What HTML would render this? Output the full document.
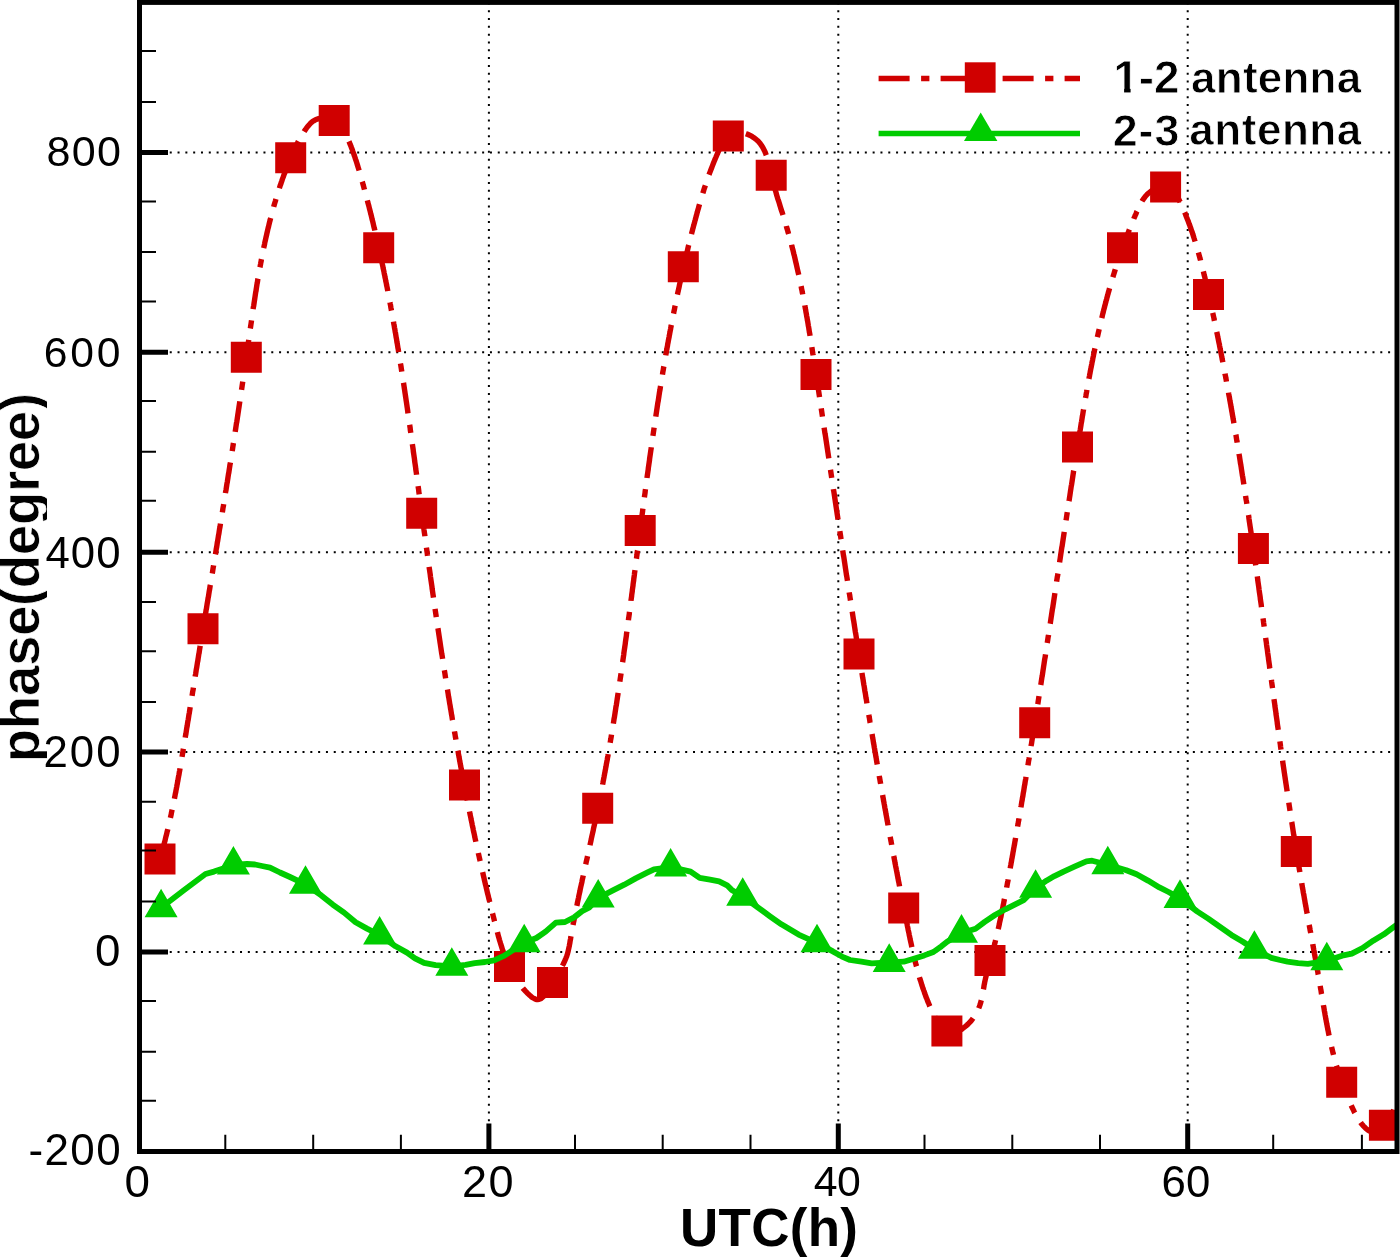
<!DOCTYPE html><html><head><meta charset="utf-8"><style>html,body{margin:0;padding:0;background:#fff;}svg{display:block;will-change:transform;}text{font-family:"Liberation Sans",sans-serif;font-size:100px;font-kerning:none;fill:#000;}</style></head><body>
<svg width="1400" height="1258" viewBox="0 0 1400 1258">
<defs><clipPath id="pc"><rect x="139.5" y="2.4" width="1257.5" height="1149.1"/></clipPath><clipPath id="tc"><rect x="-10" y="300" width="57" height="560"/></clipPath></defs>
<path d="M138.5 952.00H1397.0M138.5 752.10H1397.0M138.5 552.20H1397.0M138.5 352.30H1397.0M138.5 152.40H1397.0" stroke="#000" stroke-width="2" stroke-dasharray="2 5.81" fill="none"/>
<path d="M488.90 1152.5V2.4M838.30 1152.5V2.4M1187.70 1152.5V2.4" stroke="#000" stroke-width="2" stroke-dasharray="2 5.81" fill="none"/>
<g clip-path="url(#pc)">
<path d="M160.0 859.0L160.3 857.7L160.7 856.4L161.1 855.1L161.4 853.8L161.8 852.5L162.2 851.1L162.5 849.8L162.9 848.5L163.2 847.2L163.6 845.9L163.9 844.6L164.3 843.3L164.6 842.0L165.0 840.7L165.3 839.3L165.6 838.0L165.9 836.7L166.3 835.4L166.6 834.1L166.9 832.8L167.2 831.5L167.6 830.1L167.9 828.8L168.2 827.5L168.5 826.2L168.8 824.9L169.1 823.5L169.4 822.2L169.7 820.9L170.0 819.6L170.3 818.3L170.6 816.9L170.9 815.6L171.2 814.3L171.4 813.0L171.7 811.7L172.0 810.3L172.3 809.0L172.6 807.7L172.8 806.4L173.1 805.0L173.4 803.7L173.7 802.4L173.9 801.1L174.2 799.7L174.5 798.4L174.7 797.1L175.0 795.8L175.2 794.4L175.5 793.1L175.8 791.8L176.0 790.4L176.3 789.1L176.5 787.8L176.8 786.5L177.0 785.1L177.3 783.8L177.5 782.5L177.8 781.1L178.0 779.8L178.2 778.5L178.5 777.1L178.7 775.8L179.0 774.5L179.2 773.2L179.4 771.8L179.7 770.5L179.9 769.2L180.1 767.8L180.4 766.5L180.6 765.2L180.8 763.8L181.1 762.5L181.3 761.2L181.5 759.8L181.8 758.5L182.0 757.2L182.2 755.8L182.4 754.5L182.7 753.1L182.9 751.8L183.1 750.5L183.3 749.1L183.5 747.8L183.8 746.5L184.0 745.1L184.2 743.8L184.4 742.5L184.7 741.1L184.9 739.8L185.1 738.5L185.3 737.1L185.5 735.8L185.8 734.4L186.0 733.1L186.2 731.8L186.4 730.4L186.6 729.1L186.8 727.8L187.1 726.4L187.3 725.1L187.5 723.7L187.7 722.4L187.9 721.1L188.2 719.7L188.4 718.4L188.6 717.1L188.8 715.7L189.0 714.4L189.3 713.0L189.5 711.7L189.7 710.4L189.9 709.0L190.1 707.7L190.3 706.4L190.6 705.0L190.8 703.7L191.0 702.3L191.2 701.0L191.4 699.7L191.6 698.3L191.9 697.0L192.1 695.7L192.3 694.3L192.5 693.0L192.7 691.6L193.0 690.3L193.2 689.0L193.4 687.6L193.6 686.3L193.8 684.9L194.0 683.6L194.3 682.3L194.5 680.9L194.7 679.6L194.9 678.3L195.1 676.9L195.3 675.6L195.6 674.2L195.8 672.9L196.0 671.6L196.2 670.2L196.4 668.9L196.7 667.6L196.9 666.2L197.1 664.9L197.3 663.6L197.5 662.2L197.8 660.9L198.0 659.5L198.2 658.2L198.4 656.9L198.6 655.5L198.8 654.2L199.1 652.9L199.3 651.5L199.5 650.2L199.7 648.9L199.9 647.5L200.2 646.2L200.4 644.8L200.6 643.5L200.8 642.2L201.1 640.8L201.3 639.5L201.5 638.2L201.7 636.8L201.9 635.5L202.2 634.2L202.4 632.8L202.6 631.5L202.8 630.2L203.0 628.8L203.3 627.5L203.5 626.2L203.7 624.8L203.9 623.5L204.1 622.1L204.4 620.8L204.6 619.5L204.8 618.1L205.0 616.8L205.3 615.5L205.5 614.1L205.7 612.8L205.9 611.5L206.1 610.1L206.4 608.8L206.6 607.5L206.8 606.1L207.0 604.8L207.2 603.5L207.5 602.1L207.7 600.8L207.9 599.5L208.1 598.1L208.4 596.8L208.6 595.5L208.8 594.1L209.0 592.8L209.2 591.5L209.5 590.1L209.7 588.8L209.9 587.5L210.1 586.1L210.4 584.8L210.6 583.5L210.8 582.1L211.0 580.8L211.2 579.5L211.5 578.1L211.7 576.8L211.9 575.5L212.1 574.1L212.4 572.8L212.6 571.5L212.8 570.1L213.0 568.8L213.2 567.5L213.5 566.1L213.7 564.8L213.9 563.4L214.1 562.1L214.3 560.8L214.6 559.4L214.8 558.1L215.0 556.8L215.2 555.4L215.5 554.1L215.7 552.8L215.9 551.4L216.1 550.1L216.3 548.8L216.6 547.4L216.8 546.1L217.0 544.8L217.2 543.4L217.4 542.1L217.7 540.8L217.9 539.4L218.1 538.1L218.3 536.8L218.5 535.4L218.8 534.1L219.0 532.8L219.2 531.4L219.4 530.1L219.6 528.8L219.9 527.4L220.1 526.1L220.3 524.8L220.5 523.4L220.7 522.1L221.0 520.8L221.2 519.4L221.4 518.1L221.6 516.7L221.8 515.4L222.1 514.1L222.3 512.7L222.5 511.4L222.7 510.1L222.9 508.7L223.1 507.4L223.4 506.1L223.6 504.7L223.8 503.4L224.0 502.1L224.2 500.7L224.4 499.4L224.7 498.1L224.9 496.7L225.1 495.4L225.3 494.0L225.5 492.7L225.7 491.4L226.0 490.0L226.2 488.7L226.4 487.4L226.6 486.0L226.8 484.7L227.0 483.4L227.3 482.0L227.5 480.7L227.7 479.3L227.9 478.0L228.1 476.7L228.3 475.3L228.5 474.0L228.8 472.7L229.0 471.3L229.2 470.0L229.4 468.6L229.6 467.3L229.8 466.0L230.0 464.6L230.3 463.3L230.5 462.0L230.7 460.6L230.9 459.3L231.1 457.9L231.3 456.6L231.5 455.3L231.7 453.9L232.0 452.6L232.2 451.2L232.4 449.9L232.6 448.6L232.8 447.2L233.0 445.9L233.2 444.5L233.4 443.2L233.6 441.9L233.8 440.5L234.1 439.2L234.3 437.8L234.5 436.5L234.7 435.2L234.9 433.8L235.1 432.5L235.3 431.1L235.5 429.8L235.7 428.5L235.9 427.1L236.1 425.8L236.3 424.4L236.5 423.1L236.8 421.7L237.0 420.4L237.2 419.1L237.4 417.7L237.6 416.4L237.8 415.0L238.0 413.7L238.2 412.3L238.4 411.0L238.6 409.7L238.8 408.3L239.0 407.0L239.2 405.6L239.4 404.3L239.6 402.9L239.8 401.6L240.0 400.2L240.2 398.9L240.4 397.6L240.6 396.2L240.8 394.9L241.0 393.5L241.2 392.2L241.4 390.8L241.6 389.5L241.8 388.1L242.0 386.8L242.2 385.4L242.4 384.1L242.6 382.7L242.8 381.4L243.0 380.1L243.2 378.7L243.4 377.4L243.6 376.0L243.8 374.7L244.0 373.3L244.2 372.0L244.4 370.6L244.6 369.3L244.8 367.9L245.0 366.6L245.2 365.2L245.3 363.9L245.5 362.5L245.7 361.2L245.9 359.8L246.1 358.5L246.3 357.1L246.5 355.8L246.7 354.4L246.9 353.1L247.1 351.7L247.3 350.4L247.5 349.0L247.6 347.7L247.8 346.3L248.0 344.9L248.2 343.6L248.4 342.2L248.6 340.9L248.8 339.5L249.0 338.2L249.2 336.8L249.4 335.5L249.5 334.1L249.7 332.8L249.9 331.4L250.1 330.1L250.3 328.7L250.5 327.4L250.7 326.0L250.9 324.7L251.1 323.3L251.3 322.0L251.5 320.6L251.7 319.2L251.9 317.9L252.1 316.5L252.3 315.2L252.4 313.8L252.6 312.5L252.8 311.1L253.0 309.8L253.2 308.4L253.4 307.1L253.7 305.7L253.9 304.4L254.1 303.0L254.3 301.7L254.5 300.3L254.7 299.0L254.9 297.6L255.1 296.3L255.3 294.9L255.5 293.6L255.7 292.2L256.0 290.9L256.2 289.5L256.4 288.2L256.6 286.8L256.8 285.5L257.0 284.2L257.3 282.8L257.5 281.5L257.7 280.1L257.9 278.8L258.2 277.4L258.4 276.1L258.6 274.7L258.9 273.4L259.1 272.1L259.4 270.7L259.6 269.4L259.8 268.0L260.1 266.7L260.3 265.4L260.6 264.0L260.8 262.7L261.1 261.4L261.3 260.0L261.6 258.7L261.8 257.3L262.1 256.0L262.4 254.7L262.6 253.3L262.9 252.0L263.2 250.7L263.4 249.3L263.7 248.0L264.0 246.7L264.3 245.4L264.6 244.0L264.8 242.7L265.1 241.4L265.4 240.1L265.7 238.7L266.0 237.4L266.3 236.1L266.6 234.8L266.9 233.4L267.2 232.1L267.5 230.8L267.8 229.5L268.1 228.2L268.5 226.8L268.8 225.5L269.1 224.2L269.4 222.9L269.7 221.6L270.1 220.3L270.4 219.0L270.8 217.6L271.1 216.3L271.4 215.0L271.8 213.7L272.1 212.4L272.5 211.1L272.9 209.8L273.2 208.5L273.6 207.2L273.9 205.9L274.3 204.6L274.7 203.3L275.1 202.0L275.5 200.7L275.8 199.4L276.2 198.1L276.6 196.8L277.0 195.5L277.4 194.2L277.8 193.0L278.2 191.7L278.7 190.4L279.1 189.1L279.5 187.8L279.9 186.5L280.3 185.2L280.8 184.0L281.2 182.7L281.7 181.4L282.1 180.1L282.5 178.9L283.0 177.6L283.5 176.3L283.9 175.0L284.4 173.8L284.9 172.5L285.3 171.2L285.8 170.0L286.3 168.7L286.8 167.4L287.3 166.2L287.8 164.9L288.3 163.7L288.8 162.4L289.3 161.1L289.8 159.9L290.3 158.6L290.9 157.4L291.4 156.1L291.9 154.9L292.5 153.7L293.0 152.4L293.6 151.2L294.1 149.9L294.7 148.7L295.3 147.5L295.9 146.2L296.5 145.0L297.1 143.8L297.7 142.6L298.3 141.4L299.0 140.2L299.6 139.0L300.3 137.8L301.0 136.6L301.7 135.4L302.4 134.3L303.1 133.1L303.9 132.0L304.6 130.8L305.4 129.7L306.2 128.5L307.0 127.4L307.9 126.3L308.8 125.2L309.7 124.2L310.6 123.2L311.6 122.3L312.6 121.5L313.7 120.8L314.9 120.1L316.1 119.5L317.3 119.1L318.6 118.7L319.9 118.4L321.2 118.2L322.5 118.0L323.8 118.0L325.1 118.0L326.4 118.1L327.7 118.3L329.0 118.5L330.3 118.9L331.5 119.3L332.7 119.8L333.9 120.4L335.0 121.0L336.1 121.7L337.1 122.5L338.1 123.4L339.0 124.3L339.9 125.2L340.8 126.3L341.6 127.3L342.4 128.4L343.1 129.6L343.8 130.8L344.5 132.0L345.2 133.2L345.9 134.5L346.5 135.8L347.1 137.1L347.7 138.4L348.3 139.7L348.8 141.1L349.4 142.4L349.9 143.7L350.4 145.0L351.0 146.3L351.5 147.7L352.0 149.0L352.5 150.3L352.9 151.6L353.4 152.9L353.9 154.2L354.3 155.5L354.8 156.8L355.2 158.1L355.6 159.4L356.1 160.7L356.5 162.0L356.9 163.3L357.3 164.6L357.7 165.9L358.1 167.2L358.5 168.5L358.9 169.8L359.3 171.1L359.6 172.4L360.0 173.7L360.4 175.0L360.8 176.3L361.1 177.6L361.5 178.9L361.9 180.2L362.2 181.5L362.6 182.8L363.0 184.1L363.3 185.4L363.7 186.7L364.0 188.0L364.4 189.2L364.7 190.5L365.1 191.8L365.4 193.1L365.8 194.5L366.1 195.8L366.5 197.1L366.8 198.4L367.2 199.7L367.5 201.0L367.8 202.3L368.2 203.6L368.5 204.9L368.9 206.2L369.2 207.5L369.5 208.8L369.9 210.1L370.2 211.4L370.5 212.7L370.8 214.0L371.2 215.3L371.5 216.6L371.8 217.9L372.1 219.3L372.5 220.6L372.8 221.9L373.1 223.2L373.4 224.5L373.7 225.8L374.0 227.1L374.3 228.4L374.7 229.7L375.0 231.0L375.3 232.4L375.6 233.7L375.9 235.0L376.2 236.3L376.5 237.6L376.8 238.9L377.1 240.2L377.4 241.6L377.7 242.9L378.0 244.2L378.3 245.5L378.6 246.8L378.9 248.1L379.2 249.5L379.5 250.8L379.8 252.1L380.0 253.4L380.3 254.7L380.6 256.1L380.9 257.4L381.2 258.7L381.5 260.0L381.7 261.3L382.0 262.7L382.3 264.0L382.6 265.3L382.9 266.6L383.1 267.9L383.4 269.3L383.7 270.6L384.0 271.9L384.2 273.2L384.5 274.6L384.8 275.9L385.0 277.2L385.3 278.5L385.6 279.9L385.8 281.2L386.1 282.5L386.4 283.8L386.6 285.2L386.9 286.5L387.2 287.8L387.4 289.1L387.7 290.5L387.9 291.8L388.2 293.1L388.4 294.4L388.7 295.8L389.0 297.1L389.2 298.4L389.5 299.8L389.7 301.1L390.0 302.4L390.2 303.7L390.5 305.1L390.7 306.4L390.9 307.7L391.2 309.1L391.4 310.4L391.7 311.7L391.9 313.1L392.2 314.4L392.4 315.7L392.6 317.1L392.9 318.4L393.1 319.7L393.4 321.1L393.6 322.4L393.8 323.7L394.1 325.1L394.3 326.4L394.5 327.7L394.8 329.1L395.0 330.4L395.2 331.7L395.5 333.1L395.7 334.4L395.9 335.7L396.1 337.1L396.4 338.4L396.6 339.7L396.8 341.1L397.0 342.4L397.3 343.8L397.5 345.1L397.7 346.4L397.9 347.8L398.2 349.1L398.4 350.4L398.6 351.8L398.8 353.1L399.0 354.5L399.2 355.8L399.5 357.1L399.7 358.5L399.9 359.8L400.1 361.2L400.3 362.5L400.5 363.8L400.8 365.2L401.0 366.5L401.2 367.9L401.4 369.2L401.6 370.5L401.8 371.9L402.0 373.2L402.2 374.6L402.4 375.9L402.6 377.2L402.8 378.6L403.1 379.9L403.3 381.3L403.5 382.6L403.7 383.9L403.9 385.3L404.1 386.6L404.3 388.0L404.5 389.3L404.7 390.7L404.9 392.0L405.1 393.3L405.3 394.7L405.5 396.0L405.7 397.4L405.9 398.7L406.1 400.1L406.3 401.4L406.5 402.7L406.7 404.1L406.9 405.4L407.1 406.8L407.3 408.1L407.5 409.5L407.7 410.8L407.8 412.2L408.0 413.5L408.2 414.8L408.4 416.2L408.6 417.5L408.8 418.9L409.0 420.2L409.2 421.6L409.4 422.9L409.6 424.3L409.8 425.6L410.0 427.0L410.2 428.3L410.3 429.6L410.5 431.0L410.7 432.3L410.9 433.7L411.1 435.0L411.3 436.4L411.5 437.7L411.7 439.1L411.9 440.4L412.0 441.8L412.2 443.1L412.4 444.4L412.6 445.8L412.8 447.1L413.0 448.5L413.2 449.8L413.3 451.2L413.5 452.5L413.7 453.9L413.9 455.2L414.1 456.6L414.3 457.9L414.5 459.3L414.6 460.6L414.8 462.0L415.0 463.3L415.2 464.6L415.4 466.0L415.6 467.3L415.7 468.7L415.9 470.0L416.1 471.4L416.3 472.7L416.5 474.1L416.6 475.4L416.8 476.8L417.0 478.1L417.2 479.5L417.4 480.8L417.6 482.2L417.7 483.5L417.9 484.8L418.1 486.2L418.3 487.5L418.5 488.9L418.7 490.2L418.8 491.6L419.0 492.9L419.2 494.3L419.4 495.6L419.6 497.0L419.7 498.3L419.9 499.7L420.1 501.0L420.3 502.4L420.5 503.7L420.7 505.0L420.8 506.4L421.0 507.7L421.2 509.1L421.4 510.4L421.6 511.8L421.7 513.1L421.9 514.5L422.1 515.8L422.3 517.2L422.5 518.5L422.7 519.9L422.8 521.2L423.0 522.5L423.2 523.9L423.4 525.2L423.6 526.6L423.8 527.9L423.9 529.3L424.1 530.6L424.3 532.0L424.5 533.3L424.7 534.7L424.9 536.0L425.0 537.3L425.2 538.7L425.4 540.0L425.6 541.4L425.8 542.7L426.0 544.1L426.1 545.4L426.3 546.8L426.5 548.1L426.7 549.4L426.9 550.8L427.1 552.1L427.3 553.5L427.4 554.8L427.6 556.2L427.8 557.5L428.0 558.9L428.2 560.2L428.4 561.5L428.6 562.9L428.7 564.2L428.9 565.6L429.1 566.9L429.3 568.3L429.5 569.6L429.7 570.9L429.9 572.3L430.1 573.6L430.3 575.0L430.4 576.3L430.6 577.7L430.8 579.0L431.0 580.3L431.2 581.7L431.4 583.0L431.6 584.4L431.8 585.7L432.0 587.1L432.1 588.4L432.3 589.7L432.5 591.1L432.7 592.4L432.9 593.8L433.1 595.1L433.3 596.5L433.5 597.8L433.7 599.1L433.9 600.5L434.1 601.8L434.3 603.2L434.5 604.5L434.7 605.9L434.8 607.2L435.0 608.5L435.2 609.9L435.4 611.2L435.6 612.6L435.8 613.9L436.0 615.2L436.2 616.6L436.4 617.9L436.6 619.3L436.8 620.6L437.0 621.9L437.2 623.3L437.4 624.6L437.6 626.0L437.8 627.3L438.0 628.6L438.2 630.0L438.4 631.3L438.6 632.7L438.8 634.0L439.0 635.3L439.2 636.7L439.4 638.0L439.6 639.4L439.8 640.7L440.0 642.0L440.2 643.4L440.4 644.7L440.6 646.1L440.8 647.4L441.0 648.7L441.2 650.1L441.4 651.4L441.6 652.8L441.8 654.1L442.1 655.4L442.3 656.8L442.5 658.1L442.7 659.5L442.9 660.8L443.1 662.1L443.3 663.5L443.5 664.8L443.7 666.1L443.9 667.5L444.1 668.8L444.3 670.2L444.6 671.5L444.8 672.8L445.0 674.2L445.2 675.5L445.4 676.8L445.6 678.2L445.8 679.5L446.0 680.9L446.3 682.2L446.5 683.5L446.7 684.9L446.9 686.2L447.1 687.5L447.3 688.9L447.6 690.2L447.8 691.6L448.0 692.9L448.2 694.2L448.4 695.6L448.6 696.9L448.9 698.2L449.1 699.6L449.3 700.9L449.5 702.2L449.7 703.6L450.0 704.9L450.2 706.2L450.4 707.6L450.6 708.9L450.9 710.3L451.1 711.6L451.3 712.9L451.5 714.3L451.8 715.6L452.0 716.9L452.2 718.3L452.4 719.6L452.7 720.9L452.9 722.3L453.1 723.6L453.4 724.9L453.6 726.3L453.8 727.6L454.0 728.9L454.3 730.3L454.5 731.6L454.7 732.9L455.0 734.3L455.2 735.6L455.4 736.9L455.7 738.3L455.9 739.6L456.1 740.9L456.4 742.3L456.6 743.6L456.9 744.9L457.1 746.3L457.3 747.6L457.6 748.9L457.8 750.3L458.1 751.6L458.3 752.9L458.5 754.3L458.8 755.6L459.0 756.9L459.3 758.3L459.5 759.6L459.7 760.9L460.0 762.3L460.2 763.6L460.5 764.9L460.7 766.3L461.0 767.6L461.2 768.9L461.5 770.2L461.7 771.6L462.0 772.9L462.2 774.2L462.5 775.6L462.7 776.9L463.0 778.2L463.2 779.6L463.5 780.9L463.7 782.2L464.0 783.6L464.3 784.9L464.5 786.2L464.8 787.5L465.0 788.9L465.3 790.2L465.5 791.5L465.8 792.9L466.1 794.2L466.3 795.5L466.6 796.8L466.8 798.2L467.1 799.5L467.4 800.8L467.6 802.2L467.9 803.5L468.2 804.8L468.4 806.1L468.7 807.5L469.0 808.8L469.2 810.1L469.5 811.5L469.8 812.8L470.0 814.1L470.3 815.4L470.6 816.8L470.9 818.1L471.1 819.4L471.4 820.8L471.7 822.1L472.0 823.4L472.2 824.7L472.5 826.1L472.8 827.4L473.1 828.7L473.3 830.0L473.6 831.4L473.9 832.7L474.2 834.0L474.5 835.3L474.7 836.7L475.0 838.0L475.3 839.3L475.6 840.6L475.9 842.0L476.2 843.3L476.5 844.6L476.7 845.9L477.0 847.3L477.3 848.6L477.6 849.9L477.9 851.2L478.2 852.6L478.5 853.9L478.8 855.2L479.1 856.5L479.4 857.9L479.7 859.2L480.0 860.5L480.3 861.8L480.6 863.2L480.9 864.5L481.2 865.8L481.5 867.1L481.8 868.5L482.1 869.8L482.4 871.1L482.7 872.4L483.0 873.7L483.3 875.1L483.6 876.4L483.9 877.7L484.2 879.0L484.5 880.4L484.8 881.7L485.1 883.0L485.4 884.3L485.8 885.6L486.1 887.0L486.4 888.3L486.7 889.6L487.0 890.9L487.3 892.3L487.6 893.6L488.0 894.9L488.3 896.2L488.6 897.5L488.9 898.9L489.3 900.2L489.6 901.5L489.9 902.8L490.2 904.1L490.5 905.5L490.9 906.8L491.2 908.1L491.5 909.4L491.9 910.7L492.2 912.1L492.5 913.4L492.9 914.7L493.2 916.0L493.5 917.3L493.9 918.6L494.2 920.0L494.5 921.3L494.9 922.6L495.2 923.9L495.5 925.2L495.9 926.6L496.2 927.9L496.6 929.2L496.9 930.5L497.3 931.8L497.6 933.1L498.0 934.4L498.3 935.8L498.7 937.1L499.1 938.4L499.4 939.7L499.8 941.0L500.2 942.3L500.6 943.6L501.0 944.8L501.4 946.1L501.8 947.4L502.2 948.7L502.6 950.0L503.1 951.2L503.5 952.5L504.0 953.8L504.4 955.0L504.9 956.3L505.4 957.5L505.8 958.8L506.3 960.0L506.9 961.2L507.4 962.4L507.9 963.7L508.4 964.9L509.0 966.1L509.6 967.3L510.1 968.5L510.7 969.6L511.3 970.8L511.9 972.0L512.6 973.1L513.2 974.3L513.9 975.4L514.5 976.6L515.2 977.7L515.9 978.8L516.7 979.9L517.4 981.0L518.1 982.1L518.9 983.2L519.7 984.2L520.5 985.3L521.3 986.3L522.2 987.4L523.0 988.4L523.9 989.4L524.8 990.4L525.7 991.4L526.7 992.4L527.6 993.4L528.6 994.3L529.6 995.2L530.6 996.1L531.6 997.0L532.7 997.7L533.7 998.3L534.7 998.9L535.8 999.3L536.8 999.5L537.8 999.6L538.9 999.4L539.9 999.1L540.9 998.6L541.8 997.9L542.8 997.1L543.8 996.1L544.7 995.0L545.6 993.8L546.5 992.5L547.4 991.2L548.3 989.8L549.2 988.3L550.1 986.8L550.9 985.3L551.8 983.9L552.6 982.4L553.4 981.0L554.2 979.7L555.0 978.3L555.8 977.0L556.5 975.8L557.3 974.5L558.0 973.3L558.7 972.1L559.4 970.9L560.1 969.8L560.8 968.6L561.4 967.5L562.0 966.4L562.6 965.3L563.2 964.2L563.8 963.0L564.3 961.9L564.8 960.8L565.3 959.7L565.8 958.5L566.2 957.4L566.7 956.2L567.1 955.0L567.5 953.8L567.8 952.5L568.1 951.3L568.4 950.0L568.7 948.7L569.0 947.3L569.3 946.0L569.5 944.7L569.8 943.3L570.0 941.9L570.2 940.6L570.5 939.2L570.7 937.9L570.9 936.5L571.2 935.1L571.4 933.8L571.7 932.4L571.9 931.1L572.2 929.7L572.4 928.4L572.7 927.0L572.9 925.7L573.2 924.3L573.4 923.0L573.7 921.6L574.0 920.3L574.2 918.9L574.5 917.6L574.8 916.2L575.0 914.9L575.3 913.5L575.6 912.2L575.8 910.9L576.1 909.5L576.4 908.2L576.6 906.8L576.9 905.5L577.2 904.2L577.4 902.8L577.7 901.5L578.0 900.2L578.3 898.8L578.6 897.5L578.8 896.2L579.1 894.8L579.4 893.5L579.7 892.2L580.0 890.8L580.2 889.5L580.5 888.2L580.8 886.8L581.1 885.5L581.4 884.2L581.7 882.9L582.0 881.5L582.2 880.2L582.5 878.9L582.8 877.6L583.1 876.2L583.4 874.9L583.7 873.6L584.0 872.3L584.3 870.9L584.6 869.6L584.8 868.3L585.1 867.0L585.4 865.7L585.7 864.3L586.0 863.0L586.3 861.7L586.6 860.4L586.9 859.1L587.2 857.7L587.5 856.4L587.8 855.1L588.0 853.8L588.3 852.5L588.6 851.1L588.9 849.8L589.2 848.5L589.5 847.2L589.8 845.9L590.1 844.6L590.4 843.2L590.7 841.9L591.0 840.6L591.2 839.3L591.5 838.0L591.8 836.7L592.1 835.3L592.4 834.0L592.7 832.7L593.0 831.4L593.3 830.1L593.5 828.8L593.8 827.4L594.1 826.1L594.4 824.8L594.7 823.5L595.0 822.2L595.2 820.9L595.5 819.5L595.8 818.2L596.1 816.9L596.4 815.6L596.6 814.3L596.9 812.9L597.2 811.6L597.5 810.3L597.7 809.0L598.0 807.7L598.3 806.3L598.5 805.0L598.8 803.7L599.1 802.4L599.3 801.1L599.6 799.7L599.9 798.4L600.1 797.1L600.4 795.8L600.7 794.4L600.9 793.1L601.2 791.8L601.4 790.5L601.7 789.2L602.0 787.8L602.2 786.5L602.5 785.2L602.7 783.9L603.0 782.5L603.2 781.2L603.5 779.9L603.7 778.6L604.0 777.2L604.2 775.9L604.5 774.6L604.7 773.2L605.0 771.9L605.2 770.6L605.5 769.3L605.7 767.9L606.0 766.6L606.2 765.3L606.4 763.9L606.7 762.6L606.9 761.3L607.2 760.0L607.4 758.6L607.6 757.3L607.9 756.0L608.1 754.6L608.3 753.3L608.6 752.0L608.8 750.6L609.0 749.3L609.3 748.0L609.5 746.6L609.7 745.3L609.9 744.0L610.2 742.6L610.4 741.3L610.6 740.0L610.9 738.6L611.1 737.3L611.3 736.0L611.5 734.6L611.7 733.3L612.0 732.0L612.2 730.6L612.4 729.3L612.6 728.0L612.8 726.6L613.1 725.3L613.3 724.0L613.5 722.6L613.7 721.3L613.9 720.0L614.1 718.6L614.4 717.3L614.6 715.9L614.8 714.6L615.0 713.3L615.2 711.9L615.4 710.6L615.6 709.3L615.8 707.9L616.0 706.6L616.3 705.2L616.5 703.9L616.7 702.6L616.9 701.2L617.1 699.9L617.3 698.5L617.5 697.2L617.7 695.9L617.9 694.5L618.1 693.2L618.3 691.8L618.5 690.5L618.7 689.2L618.9 687.8L619.1 686.5L619.3 685.1L619.5 683.8L619.7 682.5L619.9 681.1L620.1 679.8L620.3 678.4L620.5 677.1L620.7 675.8L620.9 674.4L621.1 673.1L621.3 671.7L621.5 670.4L621.7 669.0L621.9 667.7L622.0 666.4L622.2 665.0L622.4 663.7L622.6 662.3L622.8 661.0L623.0 659.6L623.2 658.3L623.4 656.9L623.6 655.6L623.8 654.3L623.9 652.9L624.1 651.6L624.3 650.2L624.5 648.9L624.7 647.5L624.9 646.2L625.1 644.8L625.3 643.5L625.4 642.2L625.6 640.8L625.8 639.5L626.0 638.1L626.2 636.8L626.4 635.4L626.5 634.1L626.7 632.7L626.9 631.4L627.1 630.0L627.3 628.7L627.5 627.3L627.6 626.0L627.8 624.7L628.0 623.3L628.2 622.0L628.4 620.6L628.5 619.3L628.7 617.9L628.9 616.6L629.1 615.2L629.3 613.9L629.4 612.5L629.6 611.2L629.8 609.8L630.0 608.5L630.1 607.1L630.3 605.8L630.5 604.4L630.7 603.1L630.9 601.8L631.0 600.4L631.2 599.1L631.4 597.7L631.6 596.4L631.7 595.0L631.9 593.7L632.1 592.3L632.3 591.0L632.4 589.6L632.6 588.3L632.8 586.9L633.0 585.6L633.1 584.2L633.3 582.9L633.5 581.5L633.7 580.2L633.8 578.8L634.0 577.5L634.2 576.1L634.4 574.8L634.5 573.4L634.7 572.1L634.9 570.7L635.1 569.4L635.2 568.0L635.4 566.7L635.6 565.3L635.8 564.0L635.9 562.6L636.1 561.3L636.3 559.9L636.5 558.6L636.6 557.2L636.8 555.9L637.0 554.5L637.1 553.2L637.3 551.8L637.5 550.5L637.7 549.1L637.8 547.8L638.0 546.4L638.2 545.1L638.4 543.8L638.5 542.4L638.7 541.1L638.9 539.7L639.1 538.4L639.2 537.0L639.4 535.7L639.6 534.3L639.8 533.0L639.9 531.6L640.1 530.3L640.3 528.9L640.5 527.6L640.6 526.2L640.8 524.9L641.0 523.5L641.2 522.2L641.3 520.8L641.5 519.5L641.7 518.1L641.9 516.8L642.0 515.4L642.2 514.1L642.4 512.7L642.6 511.4L642.7 510.0L642.9 508.7L643.1 507.3L643.3 506.0L643.4 504.6L643.6 503.3L643.8 501.9L644.0 500.6L644.2 499.2L644.3 497.9L644.5 496.5L644.7 495.2L644.9 493.8L645.1 492.5L645.2 491.1L645.4 489.8L645.6 488.5L645.8 487.1L646.0 485.8L646.1 484.4L646.3 483.1L646.5 481.7L646.7 480.4L646.9 479.0L647.0 477.7L647.2 476.3L647.4 475.0L647.6 473.6L647.8 472.3L648.0 470.9L648.2 469.6L648.3 468.2L648.5 466.9L648.7 465.6L648.9 464.2L649.1 462.9L649.3 461.5L649.5 460.2L649.6 458.8L649.8 457.5L650.0 456.1L650.2 454.8L650.4 453.4L650.6 452.1L650.8 450.7L651.0 449.4L651.2 448.1L651.3 446.7L651.5 445.4L651.7 444.0L651.9 442.7L652.1 441.3L652.3 440.0L652.5 438.6L652.7 437.3L652.9 436.0L653.1 434.6L653.3 433.3L653.5 431.9L653.7 430.6L653.9 429.2L654.1 427.9L654.3 426.6L654.5 425.2L654.7 423.9L654.9 422.5L655.1 421.2L655.3 419.8L655.5 418.5L655.7 417.2L655.9 415.8L656.1 414.5L656.3 413.1L656.5 411.8L656.7 410.4L656.9 409.1L657.1 407.8L657.3 406.4L657.5 405.1L657.7 403.7L657.9 402.4L658.2 401.1L658.4 399.7L658.6 398.4L658.8 397.0L659.0 395.7L659.2 394.4L659.4 393.0L659.6 391.7L659.9 390.3L660.1 389.0L660.3 387.7L660.5 386.3L660.7 385.0L660.9 383.7L661.2 382.3L661.4 381.0L661.6 379.6L661.8 378.3L662.0 377.0L662.3 375.6L662.5 374.3L662.7 373.0L662.9 371.6L663.2 370.3L663.4 369.0L663.6 367.6L663.9 366.3L664.1 364.9L664.3 363.6L664.5 362.3L664.8 360.9L665.0 359.6L665.2 358.3L665.5 356.9L665.7 355.6L665.9 354.3L666.2 352.9L666.4 351.6L666.6 350.3L666.9 348.9L667.1 347.6L667.4 346.3L667.6 344.9L667.8 343.6L668.1 342.3L668.3 341.0L668.6 339.6L668.8 338.3L669.1 337.0L669.3 335.6L669.6 334.3L669.8 333.0L670.1 331.6L670.3 330.3L670.6 329.0L670.8 327.7L671.1 326.3L671.3 325.0L671.6 323.7L671.8 322.3L672.1 321.0L672.4 319.7L672.6 318.4L672.9 317.0L673.1 315.7L673.4 314.4L673.7 313.1L673.9 311.7L674.2 310.4L674.5 309.1L674.7 307.8L675.0 306.4L675.3 305.1L675.5 303.8L675.8 302.5L676.1 301.1L676.4 299.8L676.6 298.5L676.9 297.2L677.2 295.8L677.5 294.5L677.7 293.2L678.0 291.9L678.3 290.6L678.6 289.2L678.9 287.9L679.2 286.6L679.4 285.3L679.7 284.0L680.0 282.6L680.3 281.3L680.6 280.0L680.9 278.7L681.2 277.4L681.5 276.0L681.8 274.7L682.1 273.4L682.4 272.1L682.7 270.8L683.0 269.5L683.3 268.1L683.6 266.8L683.9 265.5L684.2 264.2L684.5 262.9L684.8 261.6L685.1 260.3L685.4 258.9L685.7 257.6L686.0 256.3L686.3 255.0L686.6 253.7L687.0 252.4L687.3 251.1L687.6 249.8L687.9 248.4L688.2 247.1L688.5 245.8L688.9 244.5L689.2 243.2L689.5 241.9L689.8 240.6L690.2 239.3L690.5 238.0L690.8 236.7L691.2 235.4L691.5 234.1L691.8 232.7L692.2 231.4L692.5 230.1L692.8 228.8L693.2 227.5L693.5 226.2L693.9 224.9L694.2 223.6L694.6 222.3L694.9 221.0L695.3 219.7L695.6 218.4L696.0 217.1L696.3 215.8L696.7 214.5L697.0 213.2L697.4 211.9L697.7 210.6L698.1 209.3L698.5 208.0L698.8 206.7L699.2 205.4L699.6 204.1L700.0 202.8L700.3 201.5L700.7 200.2L701.1 198.9L701.5 197.6L701.9 196.3L702.3 195.0L702.7 193.7L703.1 192.4L703.5 191.1L703.9 189.8L704.3 188.5L704.8 187.2L705.2 185.9L705.6 184.6L706.0 183.3L706.5 182.0L706.9 180.7L707.4 179.4L707.8 178.1L708.3 176.8L708.7 175.5L709.2 174.2L709.7 172.9L710.2 171.6L710.7 170.3L711.2 169.0L711.7 167.7L712.2 166.4L712.7 165.1L713.2 163.8L713.7 162.5L714.2 161.2L714.8 159.9L715.3 158.6L715.9 157.3L716.4 156.0L717.0 154.7L717.6 153.4L718.1 152.1L718.7 150.8L719.3 149.6L719.9 148.3L720.6 147.1L721.2 145.8L721.9 144.6L722.6 143.5L723.3 142.4L724.0 141.3L724.8 140.2L725.6 139.2L726.4 138.3L727.2 137.4L728.1 136.6L729.0 135.8L730.0 135.1L731.0 134.5L732.0 133.9L733.1 133.4L734.2 133.0L735.4 132.7L736.6 132.5L737.8 132.4L739.1 132.4L740.5 132.5L741.9 132.7L743.3 133.0L744.8 133.4L746.3 133.9L747.8 134.4L749.2 135.0L750.6 135.7L751.9 136.4L753.1 137.2L754.3 138.0L755.4 138.8L756.5 139.7L757.4 140.6L758.4 141.5L759.3 142.5L760.1 143.5L760.9 144.6L761.6 145.6L762.3 146.7L763.0 147.9L763.6 149.0L764.2 150.2L764.8 151.4L765.3 152.6L765.8 153.9L766.2 155.1L766.7 156.4L767.1 157.7L767.5 159.0L767.9 160.4L768.2 161.7L768.6 163.0L768.9 164.4L769.2 165.8L769.5 167.1L769.8 168.5L770.1 169.9L770.4 171.2L770.8 172.6L771.1 174.0L771.4 175.4L771.7 176.7L772.0 178.1L772.4 179.4L772.7 180.8L773.1 182.1L773.4 183.5L773.8 184.8L774.2 186.2L774.5 187.5L774.9 188.8L775.3 190.2L775.7 191.5L776.1 192.8L776.4 194.1L776.8 195.5L777.2 196.8L777.6 198.1L778.0 199.4L778.5 200.7L778.9 202.0L779.3 203.3L779.7 204.6L780.1 206.0L780.5 207.3L780.9 208.6L781.3 209.9L781.7 211.2L782.2 212.5L782.6 213.8L783.0 215.1L783.4 216.4L783.8 217.7L784.2 219.0L784.6 220.3L785.0 221.6L785.4 222.9L785.8 224.2L786.2 225.5L786.5 226.8L786.9 228.1L787.3 229.4L787.7 230.7L788.0 232.0L788.4 233.3L788.8 234.6L789.1 235.9L789.5 237.2L789.9 238.5L790.2 239.8L790.6 241.1L790.9 242.4L791.3 243.7L791.6 245.0L791.9 246.4L792.3 247.7L792.6 249.0L793.0 250.3L793.3 251.6L793.6 252.9L793.9 254.2L794.3 255.5L794.6 256.8L794.9 258.1L795.2 259.5L795.5 260.8L795.8 262.1L796.1 263.4L796.4 264.7L796.7 266.0L797.0 267.3L797.3 268.7L797.6 270.0L797.9 271.3L798.2 272.6L798.5 273.9L798.8 275.2L799.1 276.6L799.4 277.9L799.6 279.2L799.9 280.5L800.2 281.8L800.5 283.2L800.7 284.5L801.0 285.8L801.3 287.1L801.5 288.4L801.8 289.8L802.1 291.1L802.3 292.4L802.6 293.7L802.8 295.0L803.1 296.4L803.3 297.7L803.6 299.0L803.8 300.3L804.1 301.7L804.3 303.0L804.6 304.3L804.8 305.6L805.1 307.0L805.3 308.3L805.6 309.6L805.8 310.9L806.0 312.3L806.3 313.6L806.5 314.9L806.7 316.2L807.0 317.6L807.2 318.9L807.4 320.2L807.7 321.5L807.9 322.9L808.1 324.2L808.3 325.5L808.6 326.9L808.8 328.2L809.0 329.5L809.2 330.8L809.4 332.2L809.7 333.5L809.9 334.8L810.1 336.2L810.3 337.5L810.5 338.8L810.7 340.1L811.0 341.5L811.2 342.8L811.4 344.1L811.6 345.5L811.8 346.8L812.0 348.1L812.2 349.5L812.4 350.8L812.6 352.1L812.8 353.5L813.1 354.8L813.3 356.1L813.5 357.5L813.7 358.8L813.9 360.1L814.1 361.5L814.3 362.8L814.5 364.1L814.7 365.5L814.9 366.8L815.1 368.1L815.3 369.5L815.5 370.8L815.7 372.1L815.9 373.5L816.1 374.8L816.3 376.1L816.5 377.5L816.7 378.8L816.9 380.1L817.1 381.5L817.3 382.8L817.6 384.1L817.8 385.5L818.0 386.8L818.2 388.2L818.4 389.5L818.6 390.8L818.8 392.2L819.0 393.5L819.2 394.8L819.4 396.2L819.6 397.5L819.8 398.8L820.0 400.2L820.2 401.5L820.4 402.9L820.6 404.2L820.8 405.5L821.0 406.9L821.2 408.2L821.4 409.5L821.6 410.9L821.8 412.2L822.0 413.6L822.2 414.9L822.4 416.2L822.6 417.6L822.8 418.9L823.0 420.2L823.2 421.6L823.4 422.9L823.6 424.3L823.8 425.6L824.0 426.9L824.2 428.3L824.4 429.6L824.6 430.9L824.8 432.3L825.0 433.6L825.3 435.0L825.5 436.3L825.7 437.6L825.9 439.0L826.1 440.3L826.3 441.7L826.5 443.0L826.7 444.3L826.9 445.7L827.1 447.0L827.3 448.4L827.5 449.7L827.7 451.0L827.9 452.4L828.1 453.7L828.3 455.1L828.5 456.4L828.7 457.7L828.9 459.1L829.1 460.4L829.3 461.8L829.5 463.1L829.7 464.4L829.9 465.8L830.1 467.1L830.3 468.5L830.5 469.8L830.7 471.1L830.9 472.5L831.1 473.8L831.3 475.2L831.5 476.5L831.7 477.8L831.9 479.2L832.1 480.5L832.3 481.9L832.5 483.2L832.7 484.5L832.9 485.9L833.1 487.2L833.3 488.6L833.5 489.9L833.8 491.2L834.0 492.6L834.2 493.9L834.4 495.3L834.6 496.6L834.8 498.0L835.0 499.3L835.2 500.6L835.4 502.0L835.6 503.3L835.8 504.7L836.0 506.0L836.2 507.3L836.4 508.7L836.6 510.0L836.8 511.4L837.0 512.7L837.2 514.1L837.4 515.4L837.6 516.7L837.8 518.1L838.0 519.4L838.2 520.8L838.4 522.1L838.6 523.5L838.8 524.8L839.0 526.1L839.2 527.5L839.4 528.8L839.7 530.2L839.9 531.5L840.1 532.8L840.3 534.2L840.5 535.5L840.7 536.9L840.9 538.2L841.1 539.6L841.3 540.9L841.5 542.2L841.7 543.6L841.9 544.9L842.1 546.3L842.3 547.6L842.5 549.0L842.7 550.3L842.9 551.6L843.1 553.0L843.3 554.3L843.5 555.7L843.8 557.0L844.0 558.4L844.2 559.7L844.4 561.0L844.6 562.4L844.8 563.7L845.0 565.1L845.2 566.4L845.4 567.8L845.6 569.1L845.8 570.4L846.0 571.8L846.2 573.1L846.4 574.5L846.6 575.8L846.9 577.2L847.1 578.5L847.3 579.8L847.5 581.2L847.7 582.5L847.9 583.9L848.1 585.2L848.3 586.6L848.5 587.9L848.7 589.2L848.9 590.6L849.1 591.9L849.3 593.3L849.6 594.6L849.8 596.0L850.0 597.3L850.2 598.6L850.4 600.0L850.6 601.3L850.8 602.7L851.0 604.0L851.2 605.4L851.4 606.7L851.6 608.0L851.9 609.4L852.1 610.7L852.3 612.1L852.5 613.4L852.7 614.8L852.9 616.1L853.1 617.4L853.3 618.8L853.5 620.1L853.8 621.5L854.0 622.8L854.2 624.2L854.4 625.5L854.6 626.8L854.8 628.2L855.0 629.5L855.2 630.9L855.4 632.2L855.7 633.6L855.9 634.9L856.1 636.2L856.3 637.6L856.5 638.9L856.7 640.3L856.9 641.6L857.1 642.9L857.4 644.3L857.6 645.6L857.8 647.0L858.0 648.3L858.2 649.7L858.4 651.0L858.6 652.3L858.9 653.7L859.1 655.0L859.3 656.4L859.5 657.7L859.7 659.0L859.9 660.4L860.2 661.7L860.4 663.1L860.6 664.4L860.8 665.8L861.0 667.1L861.2 668.4L861.4 669.8L861.7 671.1L861.9 672.5L862.1 673.8L862.3 675.1L862.5 676.5L862.7 677.8L863.0 679.2L863.2 680.5L863.4 681.8L863.6 683.2L863.8 684.5L864.1 685.9L864.3 687.2L864.5 688.5L864.7 689.9L864.9 691.2L865.2 692.6L865.4 693.9L865.6 695.2L865.8 696.6L866.0 697.9L866.3 699.3L866.5 700.6L866.7 701.9L866.9 703.3L867.1 704.6L867.4 706.0L867.6 707.3L867.8 708.6L868.0 710.0L868.2 711.3L868.5 712.7L868.7 714.0L868.9 715.3L869.1 716.7L869.4 718.0L869.6 719.4L869.8 720.7L870.0 722.0L870.3 723.4L870.5 724.7L870.7 726.1L870.9 727.4L871.2 728.7L871.4 730.1L871.6 731.4L871.8 732.7L872.1 734.1L872.3 735.4L872.5 736.8L872.7 738.1L873.0 739.4L873.2 740.8L873.4 742.1L873.6 743.4L873.9 744.8L874.1 746.1L874.3 747.5L874.6 748.8L874.8 750.1L875.0 751.5L875.2 752.8L875.5 754.1L875.7 755.5L875.9 756.8L876.2 758.2L876.4 759.5L876.6 760.8L876.8 762.2L877.1 763.5L877.3 764.8L877.5 766.2L877.8 767.5L878.0 768.8L878.2 770.2L878.5 771.5L878.7 772.8L878.9 774.2L879.2 775.5L879.4 776.8L879.6 778.2L879.9 779.5L880.1 780.9L880.3 782.2L880.6 783.5L880.8 784.9L881.0 786.2L881.3 787.5L881.5 788.9L881.7 790.2L882.0 791.5L882.2 792.9L882.5 794.2L882.7 795.5L882.9 796.9L883.2 798.2L883.4 799.5L883.6 800.9L883.9 802.2L884.1 803.5L884.4 804.9L884.6 806.2L884.8 807.5L885.1 808.9L885.3 810.2L885.6 811.5L885.8 812.9L886.0 814.2L886.3 815.5L886.5 816.8L886.8 818.2L887.0 819.5L887.2 820.8L887.5 822.2L887.7 823.5L888.0 824.8L888.2 826.2L888.5 827.5L888.7 828.8L888.9 830.2L889.2 831.5L889.4 832.8L889.7 834.1L889.9 835.5L890.2 836.8L890.4 838.1L890.7 839.5L890.9 840.8L891.2 842.1L891.4 843.4L891.7 844.8L891.9 846.1L892.1 847.4L892.4 848.8L892.6 850.1L892.9 851.4L893.1 852.7L893.4 854.1L893.6 855.4L893.9 856.7L894.1 858.1L894.4 859.4L894.6 860.7L894.9 862.0L895.1 863.4L895.4 864.7L895.6 866.0L895.9 867.3L896.2 868.7L896.4 870.0L896.7 871.3L896.9 872.6L897.2 874.0L897.4 875.3L897.7 876.6L897.9 877.9L898.2 879.3L898.4 880.6L898.7 881.9L899.0 883.2L899.2 884.6L899.5 885.9L899.7 887.2L900.0 888.5L900.2 889.9L900.5 891.2L900.8 892.5L901.0 893.8L901.3 895.1L901.5 896.5L901.8 897.8L902.1 899.1L902.3 900.4L902.6 901.8L902.8 903.1L903.1 904.4L903.4 905.7L903.6 907.0L903.9 908.4L904.2 909.7L904.4 911.0L904.7 912.3L904.9 913.6L905.2 915.0L905.5 916.3L905.7 917.6L906.0 918.9L906.3 920.2L906.5 921.6L906.8 922.9L907.1 924.2L907.3 925.5L907.6 926.8L907.9 928.2L908.1 929.5L908.4 930.8L908.7 932.1L909.0 933.4L909.2 934.7L909.5 936.1L909.8 937.4L910.0 938.7L910.3 940.0L910.6 941.3L910.9 942.6L911.2 944.0L911.5 945.3L911.7 946.6L912.0 947.9L912.3 949.2L912.6 950.6L912.9 951.9L913.2 953.2L913.5 954.5L913.8 955.8L914.1 957.2L914.5 958.5L914.8 959.8L915.1 961.1L915.4 962.5L915.8 963.8L916.1 965.1L916.5 966.4L916.8 967.8L917.2 969.1L917.5 970.4L917.9 971.8L918.3 973.1L918.7 974.4L919.0 975.8L919.4 977.1L919.8 978.5L920.2 979.8L920.7 981.1L921.1 982.5L921.5 983.8L921.9 985.2L922.4 986.5L922.8 987.9L923.3 989.2L923.8 990.6L924.3 991.9L924.7 993.3L925.2 994.6L925.7 996.0L926.2 997.4L926.8 998.7L927.3 1000.1L927.8 1001.5L928.4 1002.8L929.0 1004.2L929.5 1005.6L930.1 1007.0L930.7 1008.3L931.3 1009.7L931.9 1011.0L932.6 1012.4L933.2 1013.7L933.9 1015.0L934.5 1016.3L935.2 1017.6L935.9 1018.8L936.6 1020.0L937.4 1021.1L938.1 1022.2L938.9 1023.3L939.6 1024.4L940.4 1025.3L941.2 1026.3L942.1 1027.1L942.9 1028.0L943.8 1028.7L944.7 1029.4L945.6 1030.0L946.5 1030.6L947.5 1031.1L948.4 1031.5L949.4 1031.8L950.4 1032.0L951.5 1032.2L952.5 1032.2L953.6 1032.2L954.7 1032.1L955.8 1031.8L957.0 1031.5L958.2 1031.0L959.4 1030.5L960.6 1029.8L961.9 1029.1L963.1 1028.2L964.4 1027.2L965.6 1026.2L966.9 1025.1L968.1 1024.0L969.2 1022.8L970.4 1021.6L971.4 1020.4L972.4 1019.2L973.3 1017.9L974.2 1016.7L975.0 1015.5L975.8 1014.2L976.5 1013.0L977.1 1011.7L977.7 1010.5L978.3 1009.2L978.8 1007.9L979.3 1006.7L979.8 1005.4L980.2 1004.1L980.6 1002.9L980.9 1001.6L981.3 1000.3L981.6 999.0L981.9 997.7L982.2 996.4L982.4 995.1L982.7 993.8L982.9 992.5L983.1 991.2L983.3 989.9L983.6 988.6L983.8 987.3L984.0 986.0L984.2 984.7L984.5 983.4L984.7 982.1L985.0 980.8L985.3 979.5L985.6 978.2L985.9 976.9L986.2 975.6L986.5 974.3L986.8 973.0L987.2 971.7L987.5 970.3L987.9 969.0L988.3 967.7L988.6 966.4L989.0 965.1L989.4 963.8L989.8 962.5L990.1 961.2L990.5 959.9L990.9 958.6L991.2 957.3L991.6 956.0L991.9 954.7L992.3 953.3L992.6 952.0L993.0 950.7L993.3 949.4L993.6 948.1L994.0 946.8L994.3 945.5L994.6 944.1L995.0 942.8L995.3 941.5L995.6 940.2L995.9 938.9L996.2 937.6L996.6 936.2L996.9 934.9L997.2 933.6L997.5 932.3L997.8 931.0L998.1 929.6L998.4 928.3L998.7 927.0L999.0 925.7L999.3 924.3L999.5 923.0L999.8 921.7L1000.1 920.4L1000.4 919.0L1000.7 917.7L1001.0 916.4L1001.2 915.1L1001.5 913.7L1001.8 912.4L1002.1 911.1L1002.3 909.7L1002.6 908.4L1002.9 907.1L1003.1 905.8L1003.4 904.4L1003.7 903.1L1003.9 901.8L1004.2 900.4L1004.4 899.1L1004.7 897.8L1005.0 896.4L1005.2 895.1L1005.5 893.8L1005.7 892.4L1006.0 891.1L1006.2 889.8L1006.5 888.4L1006.7 887.1L1007.0 885.8L1007.2 884.5L1007.5 883.1L1007.7 881.8L1008.0 880.5L1008.2 879.1L1008.4 877.8L1008.7 876.5L1008.9 875.1L1009.2 873.8L1009.4 872.5L1009.7 871.1L1009.9 869.8L1010.2 868.5L1010.4 867.1L1010.6 865.8L1010.9 864.5L1011.1 863.1L1011.4 861.8L1011.6 860.5L1011.8 859.1L1012.1 857.8L1012.3 856.5L1012.6 855.1L1012.8 853.8L1013.0 852.4L1013.3 851.1L1013.5 849.8L1013.7 848.4L1014.0 847.1L1014.2 845.8L1014.5 844.4L1014.7 843.1L1014.9 841.8L1015.2 840.4L1015.4 839.1L1015.6 837.8L1015.9 836.4L1016.1 835.1L1016.3 833.8L1016.6 832.4L1016.8 831.1L1017.0 829.8L1017.3 828.4L1017.5 827.1L1017.7 825.8L1018.0 824.4L1018.2 823.1L1018.4 821.8L1018.7 820.4L1018.9 819.1L1019.1 817.8L1019.3 816.4L1019.6 815.1L1019.8 813.8L1020.0 812.4L1020.3 811.1L1020.5 809.7L1020.7 808.4L1020.9 807.1L1021.2 805.7L1021.4 804.4L1021.6 803.1L1021.8 801.7L1022.1 800.4L1022.3 799.1L1022.5 797.7L1022.8 796.4L1023.0 795.1L1023.2 793.7L1023.4 792.4L1023.7 791.1L1023.9 789.7L1024.1 788.4L1024.3 787.0L1024.5 785.7L1024.8 784.4L1025.0 783.0L1025.2 781.7L1025.4 780.4L1025.7 779.0L1025.9 777.7L1026.1 776.4L1026.3 775.0L1026.5 773.7L1026.8 772.4L1027.0 771.0L1027.2 769.7L1027.4 768.3L1027.6 767.0L1027.9 765.7L1028.1 764.3L1028.3 763.0L1028.5 761.7L1028.7 760.3L1029.0 759.0L1029.2 757.7L1029.4 756.3L1029.6 755.0L1029.8 753.7L1030.1 752.3L1030.3 751.0L1030.5 749.6L1030.7 748.3L1030.9 747.0L1031.1 745.6L1031.4 744.3L1031.6 743.0L1031.8 741.6L1032.0 740.3L1032.2 739.0L1032.4 737.6L1032.6 736.3L1032.9 734.9L1033.1 733.6L1033.3 732.3L1033.5 730.9L1033.7 729.6L1033.9 728.3L1034.1 726.9L1034.4 725.6L1034.6 724.2L1034.8 722.9L1035.0 721.6L1035.2 720.2L1035.4 718.9L1035.6 717.6L1035.9 716.2L1036.1 714.9L1036.3 713.6L1036.5 712.2L1036.7 710.9L1036.9 709.5L1037.1 708.2L1037.3 706.9L1037.5 705.5L1037.8 704.2L1038.0 702.9L1038.2 701.5L1038.4 700.2L1038.6 698.8L1038.8 697.5L1039.0 696.2L1039.2 694.8L1039.4 693.5L1039.6 692.2L1039.9 690.8L1040.1 689.5L1040.3 688.1L1040.5 686.8L1040.7 685.5L1040.9 684.1L1041.1 682.8L1041.3 681.5L1041.5 680.1L1041.7 678.8L1041.9 677.4L1042.2 676.1L1042.4 674.8L1042.6 673.4L1042.8 672.1L1043.0 670.7L1043.2 669.4L1043.4 668.1L1043.6 666.7L1043.8 665.4L1044.0 664.1L1044.2 662.7L1044.4 661.4L1044.6 660.0L1044.8 658.7L1045.1 657.4L1045.3 656.0L1045.5 654.7L1045.7 653.4L1045.9 652.0L1046.1 650.7L1046.3 649.3L1046.5 648.0L1046.7 646.7L1046.9 645.3L1047.1 644.0L1047.3 642.6L1047.5 641.3L1047.7 640.0L1047.9 638.6L1048.1 637.3L1048.4 635.9L1048.6 634.6L1048.8 633.3L1049.0 631.9L1049.2 630.6L1049.4 629.3L1049.6 627.9L1049.8 626.6L1050.0 625.2L1050.2 623.9L1050.4 622.6L1050.6 621.2L1050.8 619.9L1051.0 618.5L1051.2 617.2L1051.4 615.9L1051.6 614.5L1051.8 613.2L1052.0 611.8L1052.2 610.5L1052.4 609.2L1052.7 607.8L1052.9 606.5L1053.1 605.2L1053.3 603.8L1053.5 602.5L1053.7 601.1L1053.9 599.8L1054.1 598.5L1054.3 597.1L1054.5 595.8L1054.7 594.4L1054.9 593.1L1055.1 591.8L1055.3 590.4L1055.5 589.1L1055.7 587.7L1055.9 586.4L1056.1 585.1L1056.3 583.7L1056.5 582.4L1056.7 581.0L1056.9 579.7L1057.1 578.4L1057.3 577.0L1057.6 575.7L1057.8 574.3L1058.0 573.0L1058.2 571.7L1058.4 570.3L1058.6 569.0L1058.8 567.6L1059.0 566.3L1059.2 565.0L1059.4 563.6L1059.6 562.3L1059.8 560.9L1060.0 559.6L1060.2 558.3L1060.4 556.9L1060.6 555.6L1060.8 554.2L1061.0 552.9L1061.2 551.6L1061.4 550.2L1061.6 548.9L1061.8 547.5L1062.1 546.2L1062.3 544.9L1062.5 543.5L1062.7 542.2L1062.9 540.8L1063.1 539.5L1063.3 538.2L1063.5 536.8L1063.7 535.5L1063.9 534.1L1064.1 532.8L1064.3 531.5L1064.5 530.1L1064.7 528.8L1064.9 527.4L1065.1 526.1L1065.3 524.8L1065.5 523.4L1065.7 522.1L1066.0 520.7L1066.2 519.4L1066.4 518.1L1066.6 516.7L1066.8 515.4L1067.0 514.0L1067.2 512.7L1067.4 511.3L1067.6 510.0L1067.8 508.7L1068.0 507.3L1068.2 506.0L1068.4 504.6L1068.6 503.3L1068.8 502.0L1069.1 500.6L1069.3 499.3L1069.5 497.9L1069.7 496.6L1069.9 495.3L1070.1 493.9L1070.3 492.6L1070.5 491.2L1070.7 489.9L1070.9 488.6L1071.1 487.2L1071.3 485.9L1071.6 484.5L1071.8 483.2L1072.0 481.8L1072.2 480.5L1072.4 479.2L1072.6 477.8L1072.8 476.5L1073.0 475.1L1073.2 473.8L1073.4 472.5L1073.6 471.1L1073.9 469.8L1074.1 468.4L1074.3 467.1L1074.5 465.8L1074.7 464.4L1074.9 463.1L1075.1 461.7L1075.3 460.4L1075.5 459.0L1075.8 457.7L1076.0 456.4L1076.2 455.0L1076.4 453.7L1076.6 452.3L1076.8 451.0L1077.0 449.7L1077.2 448.3L1077.5 447.0L1077.7 445.6L1077.9 444.3L1078.1 442.9L1078.3 441.6L1078.5 440.3L1078.7 438.9L1079.0 437.6L1079.2 436.2L1079.4 434.9L1079.6 433.6L1079.8 432.2L1080.0 430.9L1080.3 429.5L1080.5 428.2L1080.7 426.8L1080.9 425.5L1081.1 424.2L1081.3 422.8L1081.6 421.5L1081.8 420.1L1082.0 418.8L1082.2 417.5L1082.4 416.1L1082.7 414.8L1082.9 413.4L1083.1 412.1L1083.3 410.8L1083.6 409.4L1083.8 408.1L1084.0 406.7L1084.2 405.4L1084.5 404.1L1084.7 402.7L1084.9 401.4L1085.2 400.0L1085.4 398.7L1085.6 397.4L1085.9 396.0L1086.1 394.7L1086.3 393.4L1086.6 392.0L1086.8 390.7L1087.0 389.3L1087.3 388.0L1087.5 386.7L1087.8 385.3L1088.0 384.0L1088.2 382.7L1088.5 381.3L1088.7 380.0L1089.0 378.6L1089.2 377.3L1089.5 376.0L1089.7 374.6L1090.0 373.3L1090.2 372.0L1090.5 370.6L1090.7 369.3L1091.0 368.0L1091.3 366.6L1091.5 365.3L1091.8 364.0L1092.0 362.6L1092.3 361.3L1092.6 360.0L1092.8 358.7L1093.1 357.3L1093.4 356.0L1093.6 354.7L1093.9 353.3L1094.2 352.0L1094.4 350.7L1094.7 349.4L1095.0 348.0L1095.3 346.7L1095.6 345.4L1095.8 344.0L1096.1 342.7L1096.4 341.4L1096.7 340.1L1097.0 338.7L1097.3 337.4L1097.6 336.1L1097.9 334.8L1098.2 333.4L1098.5 332.1L1098.8 330.8L1099.1 329.5L1099.4 328.2L1099.7 326.8L1100.0 325.5L1100.3 324.2L1100.6 322.9L1100.9 321.6L1101.2 320.2L1101.6 318.9L1101.9 317.6L1102.2 316.3L1102.5 315.0L1102.8 313.7L1103.2 312.3L1103.5 311.0L1103.8 309.7L1104.2 308.4L1104.5 307.1L1104.8 305.8L1105.2 304.5L1105.5 303.2L1105.9 301.8L1106.2 300.5L1106.6 299.2L1106.9 297.9L1107.3 296.6L1107.6 295.3L1108.0 294.0L1108.3 292.7L1108.7 291.4L1109.1 290.1L1109.4 288.8L1109.8 287.5L1110.2 286.2L1110.6 284.9L1110.9 283.6L1111.3 282.3L1111.7 281.0L1112.1 279.7L1112.5 278.4L1112.9 277.1L1113.3 275.8L1113.7 274.5L1114.1 273.2L1114.5 271.9L1114.9 270.6L1115.3 269.3L1115.7 268.0L1116.1 266.7L1116.5 265.4L1116.9 264.1L1117.4 262.8L1117.8 261.5L1118.2 260.3L1118.6 259.0L1119.1 257.7L1119.5 256.4L1119.9 255.1L1120.4 253.8L1120.8 252.5L1121.3 251.3L1121.7 250.0L1122.2 248.7L1122.6 247.4L1123.1 246.1L1123.6 244.9L1124.0 243.6L1124.5 242.3L1125.0 241.0L1125.4 239.7L1125.9 238.5L1126.4 237.2L1126.9 235.9L1127.4 234.7L1127.9 233.4L1128.4 232.1L1128.9 230.8L1129.4 229.6L1129.9 228.3L1130.4 227.0L1130.9 225.8L1131.4 224.5L1131.9 223.2L1132.4 222.0L1133.0 220.7L1133.5 219.5L1134.0 218.2L1134.6 216.9L1135.1 215.7L1135.7 214.4L1136.2 213.2L1136.7 211.9L1137.3 210.7L1137.9 209.4L1138.4 208.2L1139.0 206.9L1139.6 205.7L1140.2 204.5L1140.9 203.3L1141.5 202.1L1142.2 200.9L1142.9 199.8L1143.7 198.7L1144.5 197.6L1145.3 196.5L1146.2 195.5L1147.1 194.5L1148.1 193.6L1149.1 192.7L1150.2 191.8L1151.3 191.0L1152.5 190.2L1153.8 189.5L1155.0 188.9L1156.3 188.3L1157.7 187.9L1159.0 187.5L1160.3 187.2L1161.6 187.0L1162.9 186.9L1164.2 186.9L1165.4 187.0L1166.6 187.3L1167.8 187.7L1168.9 188.2L1170.0 188.8L1171.0 189.5L1172.0 190.3L1172.9 191.2L1173.9 192.2L1174.8 193.3L1175.6 194.4L1176.5 195.5L1177.3 196.8L1178.0 198.1L1178.8 199.4L1179.5 200.7L1180.2 202.1L1180.8 203.5L1181.5 204.9L1182.1 206.3L1182.7 207.7L1183.3 209.1L1183.9 210.5L1184.4 211.8L1185.0 213.1L1185.5 214.4L1186.0 215.7L1186.5 217.0L1187.0 218.2L1187.5 219.5L1188.0 220.7L1188.4 221.9L1188.9 223.1L1189.3 224.3L1189.8 225.5L1190.2 226.8L1190.7 228.0L1191.1 229.2L1191.5 230.5L1192.0 231.7L1192.4 232.9L1192.8 234.2L1193.2 235.4L1193.6 236.7L1194.0 238.0L1194.4 239.2L1194.8 240.5L1195.2 241.7L1195.6 243.0L1196.0 244.3L1196.4 245.6L1196.8 246.8L1197.1 248.1L1197.5 249.4L1197.9 250.7L1198.2 252.0L1198.6 253.3L1199.0 254.6L1199.3 255.9L1199.7 257.2L1200.0 258.5L1200.4 259.8L1200.7 261.1L1201.1 262.4L1201.4 263.7L1201.7 265.0L1202.1 266.3L1202.4 267.6L1202.7 268.9L1203.1 270.2L1203.4 271.5L1203.7 272.9L1204.0 274.2L1204.3 275.5L1204.7 276.8L1205.0 278.1L1205.3 279.5L1205.6 280.8L1205.9 282.1L1206.2 283.4L1206.5 284.8L1206.8 286.1L1207.1 287.4L1207.4 288.8L1207.7 290.1L1208.0 291.4L1208.3 292.7L1208.6 294.1L1208.9 295.4L1209.2 296.7L1209.5 298.1L1209.8 299.4L1210.1 300.7L1210.4 302.0L1210.7 303.4L1211.0 304.7L1211.3 306.0L1211.6 307.4L1211.9 308.7L1212.1 310.0L1212.4 311.4L1212.7 312.7L1213.0 314.0L1213.3 315.3L1213.6 316.7L1213.9 318.0L1214.1 319.3L1214.4 320.7L1214.7 322.0L1215.0 323.3L1215.3 324.7L1215.5 326.0L1215.8 327.3L1216.1 328.7L1216.4 330.0L1216.6 331.3L1216.9 332.6L1217.2 334.0L1217.5 335.3L1217.7 336.6L1218.0 338.0L1218.3 339.3L1218.5 340.6L1218.8 342.0L1219.1 343.3L1219.4 344.6L1219.6 346.0L1219.9 347.3L1220.1 348.6L1220.4 350.0L1220.7 351.3L1220.9 352.6L1221.2 354.0L1221.5 355.3L1221.7 356.6L1222.0 358.0L1222.2 359.3L1222.5 360.6L1222.8 361.9L1223.0 363.3L1223.3 364.6L1223.5 365.9L1223.8 367.3L1224.0 368.6L1224.3 369.9L1224.5 371.3L1224.8 372.6L1225.0 373.9L1225.3 375.3L1225.6 376.6L1225.8 377.9L1226.1 379.3L1226.3 380.6L1226.5 381.9L1226.8 383.3L1227.0 384.6L1227.3 385.9L1227.5 387.3L1227.8 388.6L1228.0 390.0L1228.3 391.3L1228.5 392.6L1228.7 394.0L1229.0 395.3L1229.2 396.6L1229.5 398.0L1229.7 399.3L1229.9 400.6L1230.2 402.0L1230.4 403.3L1230.7 404.6L1230.9 406.0L1231.1 407.3L1231.4 408.6L1231.6 410.0L1231.8 411.3L1232.1 412.6L1232.3 414.0L1232.5 415.3L1232.8 416.6L1233.0 418.0L1233.2 419.3L1233.5 420.7L1233.7 422.0L1233.9 423.3L1234.1 424.7L1234.4 426.0L1234.6 427.3L1234.8 428.7L1235.1 430.0L1235.3 431.3L1235.5 432.7L1235.7 434.0L1236.0 435.3L1236.2 436.7L1236.4 438.0L1236.6 439.4L1236.8 440.7L1237.1 442.0L1237.3 443.4L1237.5 444.7L1237.7 446.0L1237.9 447.4L1238.2 448.7L1238.4 450.0L1238.6 451.4L1238.8 452.7L1239.0 454.1L1239.3 455.4L1239.5 456.7L1239.7 458.1L1239.9 459.4L1240.1 460.7L1240.3 462.1L1240.5 463.4L1240.8 464.8L1241.0 466.1L1241.2 467.4L1241.4 468.8L1241.6 470.1L1241.8 471.4L1242.0 472.8L1242.2 474.1L1242.4 475.5L1242.7 476.8L1242.9 478.1L1243.1 479.5L1243.3 480.8L1243.5 482.1L1243.7 483.5L1243.9 484.8L1244.1 486.2L1244.3 487.5L1244.5 488.8L1244.7 490.2L1244.9 491.5L1245.1 492.8L1245.3 494.2L1245.5 495.5L1245.7 496.9L1245.9 498.2L1246.1 499.5L1246.4 500.9L1246.6 502.2L1246.8 503.6L1247.0 504.9L1247.2 506.2L1247.4 507.6L1247.6 508.9L1247.8 510.2L1248.0 511.6L1248.2 512.9L1248.4 514.3L1248.6 515.6L1248.8 516.9L1248.9 518.3L1249.1 519.6L1249.3 521.0L1249.5 522.3L1249.7 523.6L1249.9 525.0L1250.1 526.3L1250.3 527.7L1250.5 529.0L1250.7 530.3L1250.9 531.7L1251.1 533.0L1251.3 534.3L1251.5 535.7L1251.7 537.0L1251.9 538.4L1252.1 539.7L1252.3 541.0L1252.5 542.4L1252.6 543.7L1252.8 545.1L1253.0 546.4L1253.2 547.7L1253.4 549.1L1253.6 550.4L1253.8 551.8L1254.0 553.1L1254.2 554.4L1254.4 555.8L1254.6 557.1L1254.7 558.5L1254.9 559.8L1255.1 561.1L1255.3 562.5L1255.5 563.8L1255.7 565.2L1255.9 566.5L1256.1 567.8L1256.3 569.2L1256.4 570.5L1256.6 571.9L1256.8 573.2L1257.0 574.5L1257.2 575.9L1257.4 577.2L1257.6 578.6L1257.7 579.9L1257.9 581.2L1258.1 582.6L1258.3 583.9L1258.5 585.3L1258.7 586.6L1258.9 588.0L1259.0 589.3L1259.2 590.6L1259.4 592.0L1259.6 593.3L1259.8 594.7L1260.0 596.0L1260.2 597.3L1260.3 598.7L1260.5 600.0L1260.7 601.4L1260.9 602.7L1261.1 604.0L1261.3 605.4L1261.4 606.7L1261.6 608.1L1261.8 609.4L1262.0 610.7L1262.2 612.1L1262.4 613.4L1262.5 614.8L1262.7 616.1L1262.9 617.4L1263.1 618.8L1263.3 620.1L1263.5 621.5L1263.6 622.8L1263.8 624.2L1264.0 625.5L1264.2 626.8L1264.4 628.2L1264.5 629.5L1264.7 630.9L1264.9 632.2L1265.1 633.5L1265.3 634.9L1265.5 636.2L1265.6 637.6L1265.8 638.9L1266.0 640.3L1266.2 641.6L1266.4 642.9L1266.5 644.3L1266.7 645.6L1266.9 647.0L1267.1 648.3L1267.3 649.6L1267.5 651.0L1267.6 652.3L1267.8 653.7L1268.0 655.0L1268.2 656.4L1268.4 657.7L1268.5 659.0L1268.7 660.4L1268.9 661.7L1269.1 663.1L1269.3 664.4L1269.5 665.7L1269.6 667.1L1269.8 668.4L1270.0 669.8L1270.2 671.1L1270.4 672.5L1270.5 673.8L1270.7 675.1L1270.9 676.5L1271.1 677.8L1271.3 679.2L1271.5 680.5L1271.6 681.8L1271.8 683.2L1272.0 684.5L1272.2 685.9L1272.4 687.2L1272.6 688.6L1272.7 689.9L1272.9 691.2L1273.1 692.6L1273.3 693.9L1273.5 695.3L1273.6 696.6L1273.8 697.9L1274.0 699.3L1274.2 700.6L1274.4 702.0L1274.6 703.3L1274.8 704.7L1274.9 706.0L1275.1 707.3L1275.3 708.7L1275.5 710.0L1275.7 711.4L1275.9 712.7L1276.0 714.0L1276.2 715.4L1276.4 716.7L1276.6 718.1L1276.8 719.4L1277.0 720.8L1277.2 722.1L1277.3 723.4L1277.5 724.8L1277.7 726.1L1277.9 727.5L1278.1 728.8L1278.3 730.2L1278.5 731.5L1278.7 732.8L1278.8 734.2L1279.0 735.5L1279.2 736.9L1279.4 738.2L1279.6 739.5L1279.8 740.9L1280.0 742.2L1280.2 743.6L1280.4 744.9L1280.5 746.3L1280.7 747.6L1280.9 748.9L1281.1 750.3L1281.3 751.6L1281.5 753.0L1281.7 754.3L1281.9 755.6L1282.1 757.0L1282.3 758.3L1282.5 759.7L1282.7 761.0L1282.8 762.4L1283.0 763.7L1283.2 765.0L1283.4 766.4L1283.6 767.7L1283.8 769.1L1284.0 770.4L1284.2 771.8L1284.4 773.1L1284.6 774.4L1284.8 775.8L1285.0 777.1L1285.2 778.5L1285.4 779.8L1285.6 781.1L1285.8 782.5L1286.0 783.8L1286.2 785.2L1286.4 786.5L1286.6 787.9L1286.8 789.2L1287.0 790.5L1287.2 791.9L1287.4 793.2L1287.6 794.6L1287.8 795.9L1288.0 797.2L1288.2 798.6L1288.4 799.9L1288.6 801.3L1288.8 802.6L1289.0 804.0L1289.2 805.3L1289.4 806.6L1289.6 808.0L1289.8 809.3L1290.0 810.7L1290.2 812.0L1290.4 813.3L1290.6 814.7L1290.8 816.0L1291.0 817.4L1291.2 818.7L1291.4 820.1L1291.6 821.4L1291.9 822.7L1292.1 824.1L1292.3 825.4L1292.5 826.8L1292.7 828.1L1292.9 829.4L1293.1 830.8L1293.3 832.1L1293.5 833.5L1293.7 834.8L1294.0 836.1L1294.2 837.5L1294.4 838.8L1294.6 840.2L1294.8 841.5L1295.0 842.9L1295.2 844.2L1295.5 845.5L1295.7 846.9L1295.9 848.2L1296.1 849.6L1296.3 850.9L1296.5 852.2L1296.8 853.6L1297.0 854.9L1297.2 856.3L1297.4 857.6L1297.6 858.9L1297.9 860.3L1298.1 861.6L1298.3 863.0L1298.5 864.3L1298.8 865.6L1299.0 867.0L1299.2 868.3L1299.4 869.7L1299.7 871.0L1299.9 872.4L1300.1 873.7L1300.3 875.0L1300.6 876.4L1300.8 877.7L1301.0 879.1L1301.3 880.4L1301.5 881.7L1301.7 883.1L1301.9 884.4L1302.2 885.8L1302.4 887.1L1302.6 888.4L1302.9 889.8L1303.1 891.1L1303.3 892.5L1303.6 893.8L1303.8 895.1L1304.1 896.5L1304.3 897.8L1304.5 899.2L1304.8 900.5L1305.0 901.8L1305.2 903.2L1305.5 904.5L1305.7 905.9L1306.0 907.2L1306.2 908.5L1306.4 909.9L1306.7 911.2L1306.9 912.6L1307.2 913.9L1307.4 915.2L1307.7 916.6L1307.9 917.9L1308.2 919.3L1308.4 920.6L1308.6 921.9L1308.9 923.3L1309.1 924.6L1309.4 925.9L1309.6 927.3L1309.9 928.6L1310.1 930.0L1310.4 931.3L1310.6 932.6L1310.9 934.0L1311.1 935.3L1311.4 936.7L1311.6 938.0L1311.8 939.3L1312.1 940.7L1312.3 942.0L1312.6 943.3L1312.8 944.7L1313.1 946.0L1313.3 947.3L1313.6 948.7L1313.8 950.0L1314.1 951.3L1314.3 952.7L1314.5 954.0L1314.8 955.3L1315.0 956.7L1315.3 958.0L1315.5 959.3L1315.7 960.7L1316.0 962.0L1316.2 963.3L1316.5 964.7L1316.7 966.0L1316.9 967.3L1317.2 968.7L1317.4 970.0L1317.7 971.3L1317.9 972.7L1318.1 974.0L1318.4 975.3L1318.6 976.6L1318.8 978.0L1319.0 979.3L1319.3 980.6L1319.5 981.9L1319.7 983.3L1320.0 984.6L1320.2 985.9L1320.4 987.2L1320.6 988.6L1320.9 989.9L1321.1 991.2L1321.3 992.5L1321.5 993.9L1321.8 995.2L1322.0 996.5L1322.2 997.8L1322.4 999.2L1322.6 1000.5L1322.9 1001.8L1323.1 1003.1L1323.3 1004.4L1323.5 1005.8L1323.8 1007.1L1324.0 1008.4L1324.2 1009.7L1324.4 1011.0L1324.7 1012.3L1324.9 1013.7L1325.1 1015.0L1325.4 1016.3L1325.6 1017.6L1325.8 1018.9L1326.1 1020.2L1326.3 1021.6L1326.6 1022.9L1326.8 1024.2L1327.1 1025.5L1327.3 1026.8L1327.6 1028.1L1327.8 1029.4L1328.1 1030.7L1328.4 1032.1L1328.6 1033.4L1328.9 1034.7L1329.2 1036.0L1329.4 1037.3L1329.7 1038.6L1330.0 1039.9L1330.3 1041.2L1330.6 1042.5L1330.9 1043.9L1331.2 1045.2L1331.5 1046.5L1331.8 1047.8L1332.1 1049.1L1332.4 1050.4L1332.7 1051.7L1333.0 1053.0L1333.4 1054.3L1333.7 1055.6L1334.0 1056.9L1334.4 1058.2L1334.7 1059.6L1335.1 1060.9L1335.4 1062.2L1335.8 1063.5L1336.2 1064.8L1336.6 1066.1L1336.9 1067.4L1337.3 1068.7L1337.7 1070.0L1338.1 1071.3L1338.5 1072.6L1338.9 1073.9L1339.4 1075.2L1339.8 1076.5L1340.2 1077.8L1340.7 1079.1L1341.1 1080.4L1341.6 1081.7L1342.0 1083.0L1342.5 1084.3L1343.0 1085.6L1343.5 1087.0L1344.0 1088.3L1344.5 1089.6L1345.0 1090.9L1345.5 1092.2L1346.0 1093.5L1346.5 1094.8L1347.1 1096.1L1347.6 1097.4L1348.2 1098.7L1348.7 1100.0L1349.3 1101.3L1349.9 1102.6L1350.5 1103.9L1351.1 1105.2L1351.7 1106.5L1352.3 1107.8L1353.0 1109.1L1353.6 1110.4L1354.2 1111.7L1354.9 1113.0L1355.6 1114.2L1356.3 1115.5L1357.0 1116.7L1357.7 1118.0L1358.4 1119.2L1359.2 1120.4L1359.9 1121.5L1360.7 1122.6L1361.5 1123.7L1362.4 1124.7L1363.2 1125.7L1364.1 1126.7L1365.0 1127.6L1365.9 1128.4L1366.8 1129.2L1367.8 1130.0L1368.8 1130.6L1369.8 1131.2L1370.9 1131.8L1372.0 1132.3L1373.1 1132.7L1374.3 1133.0L1375.4 1133.2L1376.6 1133.4L1377.9 1133.4L1379.1 1133.2L1380.2 1132.8L1381.3 1132.2L1382.3 1131.1L1383.2 1129.7L1384.0 1127.9L1384.5 1125.6L1390.0 1118.0L1396.0 1105.0L1400.0 1092.0" fill="none" stroke="#d00000" stroke-width="5.4" stroke-dasharray="31 11.5 8.3 11.2"/>
<path d="M144.50 843.50h31.0v31.0h-31.0ZM187.50 613.30h31.0v31.0h-31.0ZM230.80 341.70h31.0v31.0h-31.0ZM275.20 142.20h31.0v31.0h-31.0ZM318.70 105.00h31.0v31.0h-31.0ZM363.20 232.20h31.0v31.0h-31.0ZM406.20 497.70h31.0v31.0h-31.0ZM449.00 769.50h31.0v31.0h-31.0ZM494.00 951.10h31.0v31.0h-31.0ZM537.00 966.90h31.0v31.0h-31.0ZM582.20 792.80h31.0v31.0h-31.0ZM624.70 515.10h31.0v31.0h-31.0ZM667.80 251.30h31.0v31.0h-31.0ZM712.80 120.60h31.0v31.0h-31.0ZM755.70 159.70h31.0v31.0h-31.0ZM800.50 359.00h31.0v31.0h-31.0ZM843.50 638.50h31.0v31.0h-31.0ZM888.20 892.50h31.0v31.0h-31.0ZM931.40 1015.60h31.0v31.0h-31.0ZM974.50 945.00h31.0v31.0h-31.0ZM1019.20 707.30h31.0v31.0h-31.0ZM1062.00 431.50h31.0v31.0h-31.0ZM1107.00 232.20h31.0v31.0h-31.0ZM1150.10 171.40h31.0v31.0h-31.0ZM1193.00 279.00h31.0v31.0h-31.0ZM1237.90 533.00h31.0v31.0h-31.0ZM1280.80 836.10h31.0v31.0h-31.0ZM1326.20 1066.80h31.0v31.0h-31.0ZM1368.90 1109.80h31.0v31.0h-31.0Z" fill="#d00000"/>
<polyline points="161.1,907.7 183.5,890.5 205.5,874.0 214.0,871.6 220.9,869.3 233.4,865.0 247.1,864.0 255.0,864.5 262.0,866.0 270.0,867.6 280.0,872.5 290.0,877.0 305.5,884.3 321.3,895.4 332.7,904.6 344.1,912.6 355.6,922.3 367.0,928.6 379.6,935.0 395.6,946.3 407.0,952.6 415.0,958.3 424.1,962.9 435.6,965.1 451.8,966.3 465.6,964.9 474.7,963.1 485.0,962.0 494.1,960.3 504.4,955.7 524.2,942.7 536.4,938.0 545.6,931.7 555.9,922.6 565.0,922.0 574.1,917.4 582.1,911.1 589.0,907.7 598.2,898.0 612.9,890.4 624.3,884.7 635.7,878.4 647.1,872.7 654.0,869.3 670.6,867.0 690.6,871.6 699.7,877.9 710.0,879.6 719.1,881.3 727.1,885.3 731.7,889.9 742.7,896.3 757.4,907.1 770.0,916.3 781.4,924.3 798.6,934.6 817.0,942.8 832.9,951.4 842.0,956.6 850.0,960.0 861.4,961.7 871.7,963.4 889.2,962.4 903.7,961.7 912.9,958.9 924.3,955.4 933.4,952.0 941.4,946.3 947.1,941.7 961.5,933.1 975.6,928.7 984.7,921.9 995.0,915.0 1005.3,909.3 1016.7,903.6 1023.6,900.1 1035.6,888.3 1046.4,880.7 1054.4,876.1 1063.6,871.6 1075.0,866.4 1086.4,861.3 1092.1,860.7 1107.8,864.8 1126.3,870.3 1136.6,874.3 1148.0,880.6 1159.4,887.4 1168.6,892.0 1180.0,898.4 1197.1,911.4 1208.6,918.9 1220.0,926.9 1231.4,934.9 1242.9,941.7 1254.4,949.2 1271.4,957.9 1280.0,960.0 1287.5,961.6 1298.2,963.2 1307.9,963.8 1326.8,960.8 1342.1,955.7 1351.8,953.6 1362.5,948.2 1373.2,940.7 1383.9,934.3 1392.5,927.9 1410.0,915.0" fill="none" stroke="#00cc00" stroke-width="5.8" stroke-linejoin="round"/>
<path d="M161.10 888.65L177.60 917.23L144.60 917.23ZM233.40 845.95L249.90 874.53L216.90 874.53ZM305.50 865.25L322.00 893.83L289.00 893.83ZM379.60 915.95L396.10 944.53L363.10 944.53ZM451.80 947.25L468.30 975.83L435.30 975.83ZM524.20 923.65L540.70 952.23L507.70 952.23ZM598.20 878.95L614.70 907.53L581.70 907.53ZM670.60 847.95L687.10 876.53L654.10 876.53ZM742.70 877.25L759.20 905.83L726.20 905.83ZM817.00 923.75L833.50 952.33L800.50 952.33ZM889.20 943.35L905.70 971.93L872.70 971.93ZM961.50 914.05L978.00 942.63L945.00 942.63ZM1035.60 869.25L1052.10 897.83L1019.10 897.83ZM1107.80 845.75L1124.30 874.33L1091.30 874.33ZM1180.00 879.35L1196.50 907.93L1163.50 907.93ZM1254.40 930.15L1270.90 958.73L1237.90 958.73ZM1326.80 941.75L1343.30 970.33L1310.30 970.33Z" fill="#00cc00"/>
</g>
<path d="M139.5 51.00H156M139.5 102.00H156M139.5 201.40H156M139.5 252.10H156M139.5 301.40H156M139.5 401.10H156M139.5 451.80H156M139.5 500.80H156M139.5 602.10H156M139.5 651.20H156M139.5 701.90H156M139.5 801.70H156M139.5 850.60H156M139.5 901.40H156M139.5 1001.00H156M139.5 1051.80H156M139.5 1100.70H156" stroke="#000" stroke-width="2" fill="none"/>
<path d="M139.5 952.00H168M139.5 752.10H168M139.5 552.20H168M139.5 352.30H168M139.5 152.40H168" stroke="#000" stroke-width="5" fill="none"/>
<path d="M225.30 1151.5V1134.7M313.20 1151.5V1134.7M400.90 1151.5V1134.7M575.00 1151.5V1134.7M662.70 1151.5V1134.7M750.50 1151.5V1134.7M924.50 1151.5V1134.7M1012.30 1151.5V1134.7M1100.00 1151.5V1134.7M1273.20 1151.5V1134.7M1361.90 1151.5V1134.7" stroke="#000" stroke-width="2" fill="none"/>
<path d="M488.90 1151.5V1123.5M838.30 1151.5V1123.5M1187.70 1151.5V1123.5" stroke="#000" stroke-width="5" fill="none"/>
<rect x="139.5" y="2.4" width="1257.5" height="1149.1" fill="none" stroke="#000" stroke-width="5"/>
<line x1="878.6" y1="78.5" x2="1080" y2="78.5" stroke="#d00000" stroke-width="5.6" stroke-dasharray="31 11.5 8.3 11.2"/>
<rect x="964.8" y="62.3" width="30.8" height="30.4" fill="#d00000"/>
<line x1="878.6" y1="133.5" x2="1080" y2="133.5" stroke="#00cc00" stroke-width="5.5"/>
<path d="M980.7 112.4L997.4 141L964 141Z" fill="#00cc00"/>
<g clip-path="url(#tc)"><text transform="translate(38.55 762.15) rotate(-90) scale(0.5464 0.5464)" font-weight="bold" letter-spacing="-0.633" stroke="#fff" stroke-width="1.281">phase(degree)</text></g><text transform="translate(1113.21 93.40) scale(0.4593 0.4593)" font-weight="bold" letter-spacing="-0.057" stroke="#fff" stroke-width="1.742">1-2</text><text transform="translate(1191.11 93.40) scale(0.4401 0.4401)" font-weight="bold" letter-spacing="0.528" stroke="#fff" stroke-width="1.818">antenna</text><text transform="translate(1112.75 145.50) scale(0.4482 0.4482)" font-weight="bold" letter-spacing="1.999" stroke="#fff" stroke-width="1.785">2-3</text><text transform="translate(1189.31 145.40) scale(0.4401 0.4401)" font-weight="bold" letter-spacing="1.210" stroke="#fff" stroke-width="1.818">antenna</text><text transform="translate(46.43 166.48) scale(0.4308 0.4308)" font-weight="normal" letter-spacing="3.111">800</text><text transform="translate(43.63 366.68) scale(0.4265 0.4265)" font-weight="normal" letter-spacing="6.640">600</text><text transform="translate(45.40 567.57) scale(0.4378 0.4378)" font-weight="normal" letter-spacing="2.355">400</text><text transform="translate(43.60 767.07) scale(0.4378 0.4378)" font-weight="normal" letter-spacing="4.407">200</text><text transform="translate(95.11 966.46) scale(0.4581 0.4463)" font-weight="normal">0</text><text transform="translate(28.45 1165.27) scale(0.4393 0.4393)" font-weight="normal" letter-spacing="3.226">-200</text><text transform="translate(124.61 1196.96) scale(0.4581 0.4477)" font-weight="normal">0</text><text transform="translate(462.03 1197.46) scale(0.4506 0.4506)" font-weight="normal" letter-spacing="2.907">20</text><text transform="translate(813.82 1196.38) scale(0.4280 0.4280)" font-weight="normal" letter-spacing="-1.282">40</text><text transform="translate(1161.38 1196.67) scale(0.4378 0.4378)" font-weight="normal" letter-spacing="0.529">60</text><text transform="translate(680.02 1245.70) scale(0.5291 0.5291)" font-weight="bold" letter-spacing="0.613">UTC(h)</text>
<path d="M1114 87.4H1124.1V95H1114ZM1130.6 87.4H1140V95H1130.6Z" fill="#fff"/>
</svg></body></html>
